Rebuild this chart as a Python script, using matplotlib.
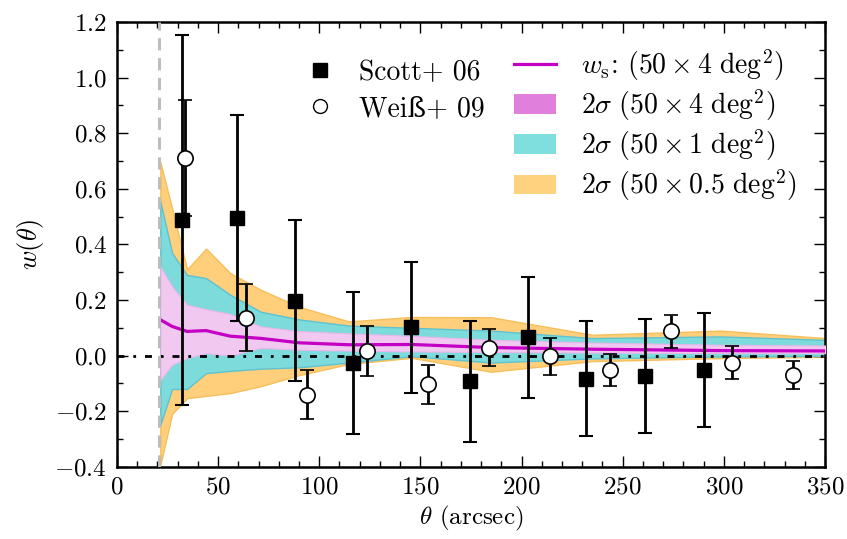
import numpy as np
import matplotlib
matplotlib.use("Agg")
import matplotlib.pyplot as plt
from matplotlib.patches import Patch
from matplotlib.lines import Line2D

plt.rcParams['font.family'] = ['cmr10', 'DejaVu Serif']
plt.rcParams['mathtext.fontset'] = 'cm'
plt.rcParams['axes.formatter.use_mathtext'] = True

# simulated bands (log-spaced theta grid)
theta_band = [21.5, 27.3, 34.7, 44.1, 56.0, 71.1, 90.3, 114.7, 145.7, 185.0, 235.0, 298.4, 379.0]
orange_hi = [0.695, 0.53, 0.31, 0.385, 0.297, 0.237, 0.175, 0.123, 0.139, 0.138, 0.075, 0.090, 0.048]
cyan_hi = [0.554, 0.369, 0.29, 0.279, 0.219, 0.158, 0.13, 0.108, 0.10, 0.09, 0.063, 0.069, 0.05]
pink_hi = [0.32, 0.249, 0.183, 0.167, 0.150, 0.105, 0.088, 0.08, 0.071, 0.057, 0.047, 0.039, 0.035]
w_s = [0.129, 0.105, 0.087, 0.09, 0.070, 0.062, 0.046, 0.039, 0.040, 0.029, 0.023, 0.018, 0.016]
pink_lo = [-0.088, -0.033, -0.009, 0.009, 0.0, 0.028, 0.021, 0.018, 0.015, 0.013, 0.011, 0.009, 0.008]
cyan_lo = [-0.249, -0.12, -0.12, -0.063, -0.055, -0.047, -0.042, -0.025, -0.002, -0.025, -0.01, -0.003, 0.0]
orange_lo = [-0.393, -0.21, -0.153, -0.145, -0.135, -0.11, -0.07, -0.03, -0.008, -0.058, -0.02, -0.009, -0.002]

# Scott+ 06
scott_x = [32, 59.5, 88, 116.5, 145.5, 174.5, 203, 232, 261, 290]
scott_y = [0.488, 0.496, 0.198, -0.027, 0.102, -0.093, 0.066, -0.083, -0.073, -0.053]
scott_err = [0.665, 0.37, 0.29, 0.256, 0.235, 0.218, 0.217, 0.207, 0.205, 0.205]

# Weiss+ 09
weiss_x = [33.6, 63.6, 93.8, 123.7, 153.9, 183.9, 214, 243.9, 273.9, 304, 334.2]
weiss_y = [0.711, 0.137, -0.141, 0.017, -0.103, 0.029, -0.003, -0.051, 0.087, -0.025, -0.071]
weiss_err = [0.209, 0.12, 0.088, 0.089, 0.07, 0.067, 0.068, 0.058, 0.06, 0.058, 0.05]

theta_min = 21

c_orange = '#ffcf7c'
c_cyan = '#7ddcdb'
c_pink = '#f1c9f0'

fig = plt.figure(figsize=(8.47, 5.39), dpi=100)
ax = fig.add_axes([0.138, 0.134, 0.836, 0.825])

ax.fill_between(theta_band, orange_lo, orange_hi, facecolor=c_orange, edgecolor='#f7bf5a', lw=1, zorder=1)
ax.fill_between(theta_band, cyan_lo, cyan_hi, facecolor=c_cyan, edgecolor='#5fc2cf', lw=1, zorder=2)
ax.fill_between(theta_band, pink_lo, pink_hi, facecolor=c_pink, edgecolor='#e8b6ea', lw=0.8, zorder=3)
ax.plot(theta_band, w_s, color='#c400c4', lw=2.3, zorder=5)

ax.axhline(0, color='k', lw=2, dashes=(2.5, 3.2, 1, 3.2), zorder=4)
ax.axvline(theta_min, color='#bdbdbd', lw=2.2, dashes=(4, 2.5), zorder=6)

ax.errorbar(scott_x, scott_y, yerr=scott_err, fmt='s', color='k', ms=10,
            elinewidth=2, capsize=5, capthick=1.5, zorder=8)
ax.errorbar(weiss_x, weiss_y, yerr=weiss_err, fmt='o', mfc='w', mec='k', mew=1.2,
            ecolor='k', ms=11, elinewidth=2, capsize=5, capthick=1.5, zorder=9)

ax.set_xlim(0, 350)
ax.set_ylim(-0.4, 1.2)
ax.set_xticks(np.arange(0, 351, 50))
ax.set_xticks(np.arange(0, 351, 10), minor=True)
ax.set_yticks(np.arange(-0.4, 1.21, 0.2))
ax.set_yticks(np.arange(-0.4, 1.21, 0.1), minor=True)
ax.tick_params(which='both', direction='in', top=True, right=True, labelsize=18)
ax.tick_params(which='major', length=8, width=1, pad=7)
ax.tick_params(which='minor', length=4, width=1)
for s in ax.spines.values():
    s.set_linewidth(1.8)

ax.set_xlabel(r'$\theta$ (arcsec)', fontsize=18, labelpad=4)
ax.set_ylabel(r'$w(\theta)$', fontsize=19, labelpad=6)

h1 = [Line2D([], [], ls='none', marker='s', color='k', ms=10),
      Line2D([], [], ls='none', marker='o', mfc='w', mec='k', ms=10)]
leg1 = ax.legend(h1, ['Scott+ 06', 'Weiß+ 09'], loc='upper left', bbox_to_anchor=(0.232, 0.972),
                 frameon=False, fontsize=20, handlelength=1.0, handletextpad=0.9, labelspacing=0.35)
ax.add_artist(leg1)

h2 = [Line2D([], [], color='#c400c4', lw=2.3),
      Patch(facecolor='#e07fdc'), Patch(facecolor='#7fdfdf'), Patch(facecolor='#ffd27f')]
l2 = [r'$w_\mathrm{s}$: $(50\times4\ \mathrm{deg}^2)$',
      r'$2\sigma\ (50\times4\ \mathrm{deg}^2)$',
      r'$2\sigma\ (50\times1\ \mathrm{deg}^2)$',
      r'$2\sigma\ (50\times0.5\ \mathrm{deg}^2)$']
ax.legend(h2, l2, loc='upper right', bbox_to_anchor=(0.995, 1.0), frameon=False, fontsize=20,
          handlelength=1.5, handletextpad=0.9, labelspacing=0.16)

fig.savefig('out.png', dpi=100)
